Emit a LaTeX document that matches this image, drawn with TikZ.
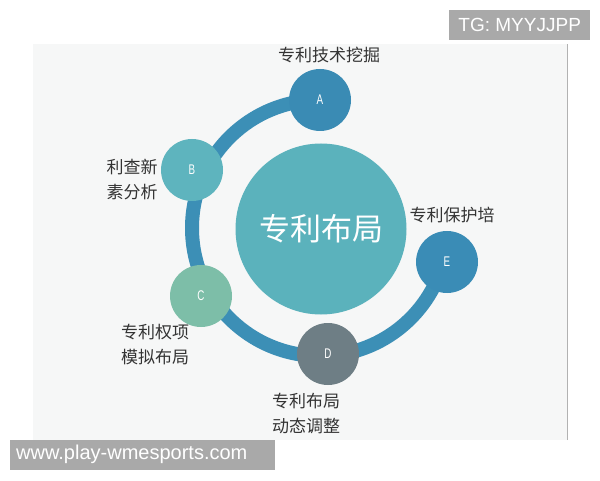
\documentclass[tikz,border=0pt]{standalone}
\usepackage{fontspec}
\newfontfamily\cjk{Noto Sans CJK SC}
\newfontfamily\arial{Liberation Sans}
\newfontfamily\thin[FakeStretch=0.7]{Liberation Sans}
\usetikzlibrary{positioning,backgrounds}

\definecolor{ringblue}{HTML}{3C8FB6}
\definecolor{dotA}{HTML}{3A8BB4}
\definecolor{dotB}{HTML}{5EB4BE}
\definecolor{dotC}{HTML}{7DBEA8}
\definecolor{dotD}{HTML}{6E7E85}
\definecolor{dotE}{HTML}{3A8CB6}
\definecolor{coreteal}{HTML}{5BB2BC}
\definecolor{panelgray}{HTML}{F6F7F7}
\definecolor{stampgray}{HTML}{A9A9A9}

\begin{document}
\begin{tikzpicture}[
  x=1pt, y=1pt,
  node distance=4pt,
  dot/.style={circle, inner sep=0pt, minimum size=62pt, text=white, font=\thin\fontsize{14}{14}\selectfont},
  core/.style={circle, inner sep=0pt, minimum size=171pt, fill=coreteal, text=white, font=\cjk\fontsize{31}{31}\selectfont},
  tag/.style={inner sep=0pt, align=left, text=black!80, font=\cjk\fontsize{17}{25}\selectfont},
  stamp/.style={fill=stampgray, text=white, inner sep=0pt, minimum height=30pt, anchor=south west, font=\arial\fontsize{19}{19}\selectfont},
  ring/.style={draw=ringblue, line width=14pt}
]
\useasboundingbox (0,0) rectangle (600,480);

% circles
\node[dot, fill=dotA] (A) at (320,380) {A};
\node[dot, fill=dotB] (B) at (192,310) {B};
\node[dot, fill=dotC] (C) at (201,184) {C};
\node[dot, fill=dotD] (D) at (328,126) {D};
\node[dot, fill=dotE] (E) at (447,218) {E};
\node[core] (hub) at (321,251) {专利布局};

% labels
\node[tag, above=6pt of A, xshift=9pt] (tA) {专利技术挖掘};
\node[tag, left=3pt of B, yshift=-10pt] (tB) {利查新\\素分析};
\node[tag, below=-3pt of C, xshift=-46pt] (tC) {专利权项\\模拟布局};
\node[tag, below=8pt of D, xshift=-22pt] (tD) {专利布局\\动态调整};
\node[tag, above=8pt of E, xshift=5pt] (tE) {专利保护培};

% panel and ring
\begin{scope}[on background layer]
  \fill[panelgray] (33,40) rectangle (567,436);
  \draw[black!30] (567,40) -- (567,436);
  \draw[ring] (A.center) arc[start angle=90, end angle=345, radius=128];
\end{scope}

% watermarks
\node[stamp, minimum width=141pt] (tg) at (449,440) {TG: MYYJJPP};
\node[stamp, minimum width=265pt, text width=253pt, inner xsep=6pt, align=left, font=\arial\fontsize{20}{20}\selectfont] (web) at (10,10) {www.play-wmesports.com};

\end{tikzpicture}
\end{document}
